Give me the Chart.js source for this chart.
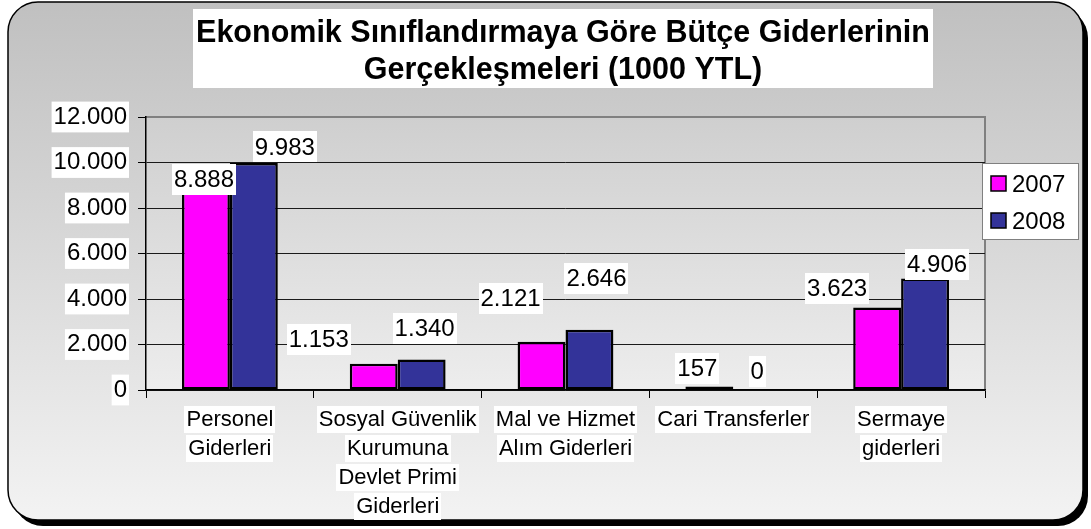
<!DOCTYPE html>
<html><head><meta charset="utf-8">
<script src="https://cdn.jsdelivr.net/npm/chart.js@4/dist/chart.umd.min.js"></script>
<style>html,body{margin:0;padding:0;background:#fff;}canvas{display:block}</style>
</head><body>
<canvas id="c" width="1091" height="529"></canvas>
<script>
const titleLines = ['Ekonomik Sınıflandırmaya Göre Bütçe Giderlerinin', 'Gerçekleşmeleri (1000 YTL)'];
const categories = [['Personel','Giderleri'],['Sosyal Güvenlik','Kurumuna','Devlet Primi','Giderleri'],['Mal ve Hizmet','Alım Giderleri'],['Cari Transferler'],['Sermaye','giderleri']];
const seriesNames = ['2007','2008'];
const values2007 = [8888, 1153, 2121, 157, 3623];
const values2008 = [9983, 1340, 2646, 0, 4906];
const yMin = 0, yMax = 12000, yStep = 2000;
// manual label shifts (px) from each bar's top-centre, as placed in the original
const labelShift2007 = [[-2,-8],[-55,-24],[-31,-43],[-12,-18],[-40,-19]];
const labelShift2008 = [[31,-16],[3,-31],[7,-51],[0,-19],[12,-14]];

const FONT = '"Liberation Sans", Arial, sans-serif';
const fmt = v => String(v).replace(/\B(?=(\d{3})+(?!\d))/g, '.');

function rr(ctx, x, y, w, h, r) {
  ctx.beginPath();
  ctx.moveTo(x + r, y);
  ctx.arcTo(x + w, y, x + w, y + h, r);
  ctx.arcTo(x + w, y + h, x, y + h, r);
  ctx.arcTo(x, y + h, x, y, r);
  ctx.arcTo(x, y, x + w, y, r);
  ctx.closePath();
}
function boxText(ctx, text, cx, cy, h) {
  const w = ctx.measureText(text).width + 4;
  ctx.fillStyle = '#fff';
  ctx.fillRect(Math.round(cx - w / 2), Math.round(cy - h / 2), Math.round(w), h);
  ctx.fillStyle = '#000';
  ctx.fillText(text, cx, cy + 1);
}

const decor = {
  id: 'decor',
  beforeDraw(chart) {
    const ctx = chart.ctx, a = chart.chartArea;
    ctx.save();
    rr(ctx, 13, 8, 1075, 518, 30);
    ctx.fillStyle = '#000'; ctx.fill();
    const g = ctx.createLinearGradient(0, 2, 0, 520);
    g.addColorStop(0, '#c0c0c0'); g.addColorStop(1, '#f3f3f3');
    rr(ctx, 8, 2, 1075, 518, 30);
    ctx.fillStyle = g; ctx.fill();
    ctx.lineWidth = 1.5; ctx.strokeStyle = '#000'; ctx.stroke();
    ctx.fillStyle = '#fff';
    ctx.fillRect(193, 9, 740, 79);
    ctx.fillStyle = '#000';
    ctx.font = 'bold 30.5px ' + FONT;
    ctx.textAlign = 'center'; ctx.textBaseline = 'middle';
    ctx.fillText(titleLines[0], 563, 34);
    ctx.fillText(titleLines[1], 563, 71);
    const pg = ctx.createLinearGradient(0, a.top, 0, a.bottom);
    pg.addColorStop(0, '#cfcfcf'); pg.addColorStop(1, '#ededed');
    ctx.fillStyle = pg;
    ctx.fillRect(a.left, a.top, a.right - a.left, a.bottom - a.top);
    ctx.strokeStyle = '#808080'; ctx.lineWidth = 2;
    ctx.beginPath();
    ctx.moveTo(a.left, a.top); ctx.lineTo(a.right, a.top); ctx.lineTo(a.right, a.bottom);
    ctx.stroke();
    ctx.restore();
  },
  afterDraw(chart) {
    const ctx = chart.ctx, a = chart.chartArea;
    const xs = chart.scales.x;
    ctx.save();
    ctx.textAlign = 'center'; ctx.textBaseline = 'middle';
    ctx.font = '24px ' + FONT;
    const shifts = [labelShift2007, labelShift2008];
    chart.data.datasets.forEach((ds, di) => {
      chart.getDatasetMeta(di).data.forEach((el, i) => {
        const s = shifts[di][i];
        boxText(ctx, fmt(ds.data[i]), el.x + s[0], el.y + s[1], 31);
      });
    });
    ctx.font = '22px ' + FONT;
    chart.data.labels.forEach((lab, i) => {
      const x = xs.getPixelForValue(i);
      lab.forEach((line, j) => boxText(ctx, line, x, a.bottom + 29 + j * 29, 27));
    });
    ctx.fillStyle = '#fff';
    ctx.fillRect(982, 163, 96, 76);
    ctx.strokeStyle = '#808080'; ctx.lineWidth = 1;
    ctx.strokeRect(982.5, 163.5, 96, 76);
    ctx.font = '24px ' + FONT;
    ctx.textAlign = 'left';
    chart.data.datasets.forEach((ds, di) => {
      const cy = 184 + di * 37;
      ctx.fillStyle = ds.backgroundColor;
      ctx.fillRect(991, cy - 8, 15, 15);
      ctx.strokeStyle = '#000'; ctx.lineWidth = 1.5;
      ctx.strokeRect(991, cy - 8, 15, 15);
      ctx.fillStyle = '#000';
      ctx.fillText(ds.label, 1012, cy + 1);
    });
    ctx.restore();
  }
};

new Chart(document.getElementById('c'), {
  type: 'bar',
  data: {
    labels: categories,
    datasets: [
      { label: seriesNames[0], data: values2007, backgroundColor: '#ff00ff', borderColor: '#000', borderWidth: 2.5, borderSkipped: false },
      { label: seriesNames[1], data: values2008, backgroundColor: '#333399', borderColor: '#000', borderWidth: 2.5, borderSkipped: false }
    ]
  },
  options: {
    responsive: false,
    animation: false,
    events: [],
    categoryPercentage: 0.571,
    barPercentage: 1.0,
    layout: { padding: { top: 117, right: 106, left: 0, bottom: 0 } },
    plugins: { legend: { display: false }, title: { display: false }, tooltip: { enabled: false } },
    scales: {
      x: {
        grid: { display: true, offset: true, drawOnChartArea: false, drawTicks: true, tickLength: 8, color: '#000', lineWidth: 1 },
        border: { color: '#000', width: 1.5 },
        ticks: { display: false },
        afterFit: s => { s.height = 139; }
      },
      y: {
        min: yMin, max: yMax,
        grid: {
          color: c => (c.tick && c.tick.value === yMax) ? 'rgba(0,0,0,0)' : '#1a1a1a',
          tickColor: '#000', lineWidth: 1, tickLength: 8, drawTicks: true
        },
        border: { color: '#000', width: 1.5 },
        ticks: {
          stepSize: yStep, color: '#000', padding: 11,
          font: { family: FONT, size: 24 },
          callback: v => fmt(v),
          showLabelBackdrop: true, backdropColor: '#fff', backdropPadding: { x: 2, y: 1 }
        },
        afterFit: s => { s.width = 146; }
      }
    }
  },
  plugins: [decor]
});
</script>
</body></html>
